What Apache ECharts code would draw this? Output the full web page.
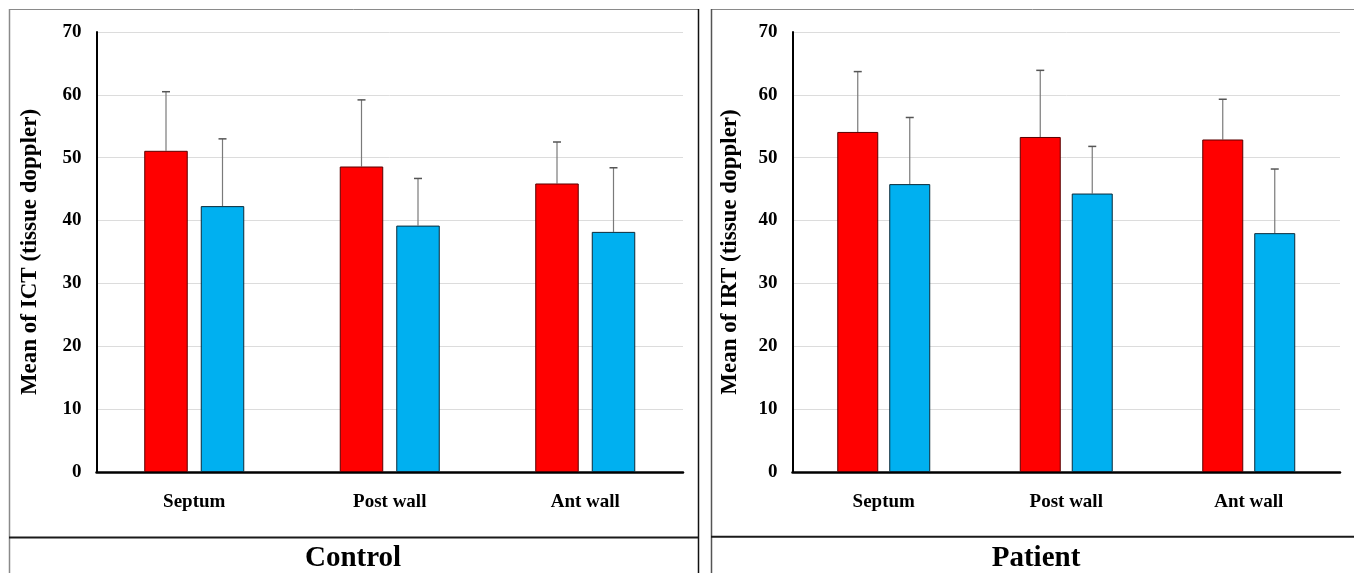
<!DOCTYPE html>
<html>
<head>
<meta charset="utf-8">
<script src="https://cdn.jsdelivr.net/npm/echarts@6/dist/echarts.min.js"></script>
<style>
html,body{margin:0;padding:0;background:#fff;}
#c{width:1354px;height:573px;}
</style>
</head>
<body>
<div id="c"></div>
<script>
const categories = ['Septum', 'Post wall', 'Ant wall'];
const yTicks = [0, 10, 20, 30, 40, 50, 60, 70];

const controlRed = [51.1, 48.6, 45.9];
const controlRedErr = [60.5, 59.2, 52.5];
const controlBlue = [42.3, 39.2, 38.2];
const controlBlueErr = [53.0, 46.7, 48.4];

const patientRed = [54.1, 53.3, 52.9];
const patientRedErr = [63.7, 63.9, 59.3];
const patientBlue = [45.8, 44.3, 38.0];
const patientBlueErr = [56.4, 51.8, 48.2];

const panelTitles = ['Control', 'Patient'];
const yNames = ['Mean of ICT (tissue doppler)', 'Mean of IRT (tissue doppler)'];

const SERIF = '"Liberation Serif","Times New Roman",serif';
const RED = '#ff0000', BLUE = '#00b0f0';

const chart = echarts.init(document.getElementById('c'), null, {renderer: 'canvas'});

const panels = [
  {grid: {left: 96.5, right: 671, top: 32, bottom: 101}, barWidth: 43.5, gap: 13, nameGap: 55,
   red: controlRed, redErr: controlRedErr, blue: controlBlue, blueErr: controlBlueErr},
  {grid: {left: 792.5, right: 14, top: 32, bottom: 101}, barWidth: 41, gap: 11, nameGap: 51,
   red: patientRed, redErr: patientRedErr, blue: patientBlue, blueErr: patientBlueErr}
];

function errSeries(idx, vals, errs, sign, p) {
  const offset = sign * (p.barWidth + p.gap) / 2;
  return {
    type: 'custom', xAxisIndex: idx, yAxisIndex: idx, z: 1,
    data: vals.map((v, i) => [i, v, errs[i]]),
    renderItem: function (params, api) {
      const base = api.coord([api.value(0), api.value(1)]);
      const top = api.coord([api.value(0), api.value(2)]);
      const x = base[0] + offset;
      return {
        type: 'group',
        children: [
          {type: 'line', shape: {x1: x, y1: base[1], x2: x, y2: top[1]}, style: {stroke: '#7a7a7a', lineWidth: 1.2}},
          {type: 'line', shape: {x1: x - 4, y1: top[1], x2: x + 4, y2: top[1]}, style: {stroke: '#555', lineWidth: 1.5}}
        ]
      };
    }
  };
}

const grids = [], xAxes = [], yAxes = [], series = [];
panels.forEach((p, idx) => {
  grids.push(p.grid);
  xAxes.push({
    type: 'category', gridIndex: idx, data: categories,
    axisLine: {lineStyle: {color: '#000', width: 2.5}},
    axisTick: {show: false},
    axisLabel: {fontFamily: SERIF, fontWeight: 'bold', fontSize: 19, color: '#000', margin: 21}
  });
  yAxes.push({
    type: 'value', gridIndex: idx, min: yTicks[0], max: yTicks[yTicks.length - 1], interval: 10,
    name: yNames[idx], nameLocation: 'middle', nameGap: p.nameGap,
    nameTextStyle: {fontFamily: SERIF, fontWeight: 'bold', fontSize: 23, color: '#000'},
    axisLine: {show: true, lineStyle: {color: '#000', width: 2}},
    axisTick: {show: false},
    splitLine: {lineStyle: {color: '#dcdcdc', width: 1}},
    axisLabel: {fontFamily: SERIF, fontWeight: 'bold', fontSize: 19, color: '#000', margin: 15}
  });
  series.push({
    type: 'bar', xAxisIndex: idx, yAxisIndex: idx, data: p.red, barWidth: p.barWidth,
    barGap: (p.gap / p.barWidth * 100).toFixed(1) + '%', z: 2,
    itemStyle: {color: RED, borderColor: '#5a0000', borderWidth: 1}
  });
  series.push({
    type: 'bar', xAxisIndex: idx, yAxisIndex: idx, data: p.blue, barWidth: p.barWidth, z: 2,
    itemStyle: {color: BLUE, borderColor: '#0a2a3a', borderWidth: 1}
  });
  series.push(errSeries(idx, p.red, p.redErr, -1, p));
  series.push(errSeries(idx, p.blue, p.blueErr, 1, p));
});

const graphic = [
  // left panel frame
  {type: 'line', shape: {x1: 9, y1: 9.5, x2: 698.5, y2: 9.5}, style: {stroke: '#8a8a8a', lineWidth: 1}},
  {type: 'line', shape: {x1: 9.5, y1: 9, x2: 9.5, y2: 573}, style: {stroke: '#8a8a8a', lineWidth: 1.5}},
  {type: 'line', shape: {x1: 698.5, y1: 9, x2: 698.5, y2: 573}, style: {stroke: '#111', lineWidth: 1.5}},
  {type: 'line', shape: {x1: 9, y1: 537.5, x2: 698.5, y2: 537.5}, style: {stroke: '#1a1a1a', lineWidth: 2}},
  // right panel frame
  {type: 'line', shape: {x1: 711, y1: 9.5, x2: 1354, y2: 9.5}, style: {stroke: '#8a8a8a', lineWidth: 1}},
  {type: 'line', shape: {x1: 711.5, y1: 9, x2: 711.5, y2: 573}, style: {stroke: '#555', lineWidth: 1.5}},
  {type: 'line', shape: {x1: 711, y1: 536.8, x2: 1354, y2: 536.8}, style: {stroke: '#1a1a1a', lineWidth: 2}},
  // titles
  {type: 'text', style: {text: panelTitles[0], x: 353, y: 559, fill: '#000',
    font: 'bold 29px ' + SERIF, textAlign: 'center', textVerticalAlign: 'middle'}},
  {type: 'text', style: {text: panelTitles[1], x: 1036, y: 559, fill: '#000',
    font: 'bold 29px ' + SERIF, textAlign: 'center', textVerticalAlign: 'middle'}}
];

chart.setOption({
  animation: false,
  backgroundColor: '#fff',
  grid: grids, xAxis: xAxes, yAxis: yAxes, series: series,
  graphic: graphic
});
</script>
</body>
</html>
